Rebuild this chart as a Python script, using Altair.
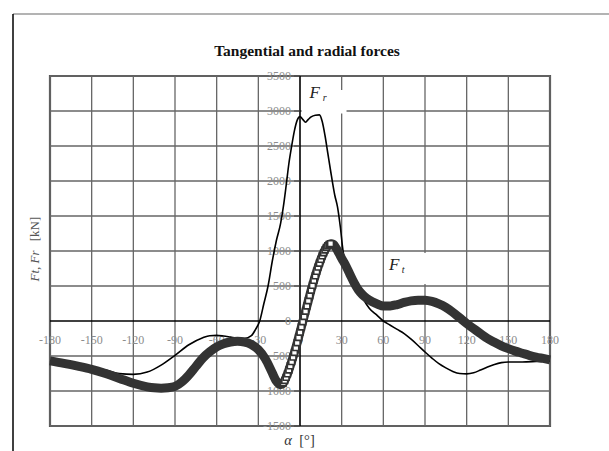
import altair as alt
import pandas as pd

# ---- data ----
x_ticks = [-180, -150, -120, -90, -60, -30, 0, 30, 60, 90, 120, 150, 180]
y_ticks = [-1500, -1000, -500, 0, 500, 1000, 1500, 2000, 2500, 3000, 3500]
grid_x = [-180, -150, -120, -90, -60, -30, 30, 60, 90, 120, 150, 180]
grid_y = [-1500, -1000, -500, 500, 1000, 1500, 2000, 2500, 3000, 3500]
zero = [0]

# radial force F_r (thin line)
fr_alpha = [-180, -165, -150, -140, -130, -120, -110, -100, -90, -80, -70, -65, -60, -55, -50,
            -45, -40, -35, -32, -29, -26, -23, -20, -17, -14, -12, -10, -8, -6, -4, -2, 0,
            2, 4, 6, 8, 11, 14, 16, 18, 20, 22, 25, 27, 29, 31, 34, 37, 40, 43, 46, 50, 55,
            60, 65, 70, 75, 80, 85, 90, 95, 100, 105, 110, 115, 120, 125, 130, 135, 140,
            145, 150, 160, 170, 180]
fr_value = [-570, -610, -657, -700, -752, -762, -730, -630, -490, -340, -240, -210, -205, -215, -230,
            -245, -250, -210, -120, 0, 250, 500, 850, 1150, 1390, 1630, 1930, 2250, 2500, 2720, 2870, 2920,
            2880, 2840, 2880, 2915, 2940, 2945, 2850, 2650, 2400, 2150, 1800, 1630, 1350, 1000, 780, 640, 520, 420, 300, 180, 90,
            0, -60, -120, -180, -260, -350, -443, -530, -610, -670, -720, -750, -755, -740, -700, -657, -620,
            -595, -586, -585, -578, -570]

# tangential force F_t (thick line with square markers)
ft_alpha = [-180, -170, -160, -150, -140, -130, -120, -110, -105, -100, -95, -90, -85, -80, -75,
            -70, -65, -60, -55, -50, -45, -40, -35, -30, -25, -20, -17,
            -14, -13, -12, -11, -10, -9, -8, -7, -6, -5, -4, -3, -2, -1, 0, 1, 2, 3, 4, 5, 6,
            7, 8, 9, 10, 11, 12, 13, 14, 15, 16, 17, 18, 19, 20, 21, 22, 23, 24,
            26, 28, 30, 33, 36, 39, 42, 45, 48, 52, 56, 60, 65, 70, 75, 80, 85, 90, 95, 100,
            105, 110, 115, 120, 125, 130, 135, 140, 145, 150, 155, 160, 165, 170, 175, 180]
ft_value = [-570, -605, -645, -690, -750, -820, -890, -940, -955, -960, -955, -935, -870, -770, -650,
            -530, -440, -370, -325, -300, -290, -300, -335, -410, -540, -740, -860,
            -910, -905, -885, -850, -805, -755, -700, -640, -580, -515, -450, -380, -310, -235, -160, -85, -10, 65, 140, 215, 290,
            365, 440, 510, 580, 645, 710, 770, 825, 880, 930, 975, 1015, 1050, 1075, 1095, 1105, 1105, 1095,
            1040, 970, 895, 790, 665, 545, 445, 375, 325, 275, 240, 215, 215, 235, 265, 288, 298, 296, 280, 245,
            195, 125, 45, -35, -110, -180, -250, -305, -355, -395, -430, -460, -490, -515, -535, -555]

# annotation boxes and labels (data coordinates)
box_a1 = [1.2, 61.5]
box_a2 = [33.5, 112]
box_v1 = [2965, 530]
box_v2 = [3300, 970]
lab_main = ["F", "F"]
lab_main_a = [10.6, 67.8]
lab_main_v = [3253, 803]
lab_sub = ["r", "t"]
lab_sub_a = [17.8, 74.2]
lab_sub_v = [3190, 730]

fr = pd.DataFrame({"alpha": fr_alpha, "value": fr_value})
ft = pd.DataFrame({"alpha": ft_alpha, "value": ft_value})
gx = pd.DataFrame({"gx": grid_x})
gy = pd.DataFrame({"gy": grid_y})
zdf = pd.DataFrame({"z": zero})
xt = pd.DataFrame({"v": x_ticks, "t": [str(v) for v in x_ticks]})
yt = pd.DataFrame({"v": y_ticks, "t": [str(v) for v in y_ticks]})
boxes = pd.DataFrame({"a1": box_a1, "a2": box_a2, "v1": box_v1, "v2": box_v2})
labs = pd.DataFrame({"t": lab_main, "a": lab_main_a, "v": lab_main_v})
subs = pd.DataFrame({"t": lab_sub, "a": lab_sub_a, "v": lab_sub_v})

SERIF = "Liberation Serif"
xs = alt.Scale(domain=[-180, 180], nice=False, zero=False)
ys = alt.Scale(domain=[-1500, 3500], nice=False, zero=False)


def X(f):
    return alt.X(f, type="quantitative", scale=xs, axis=None)


def Y(f):
    return alt.Y(f, type="quantitative", scale=ys, axis=None)


vgrid = alt.Chart(gx).mark_rule(color="#666666", strokeWidth=1.3).encode(x=X("gx"))
hgrid = alt.Chart(gy).mark_rule(color="#666666", strokeWidth=1.3).encode(y=Y("gy"))

rects = alt.Chart(boxes).mark_rect(color="white").encode(
    x=X("a1"), x2="a2:Q", y=Y("v1"), y2="v2:Q")

zero_h = alt.Chart(zdf).mark_rule(color="black", strokeWidth=1.6).encode(y=Y("z"))
zero_v = alt.Chart(zdf).mark_rule(color="black", strokeWidth=1.6).encode(x=X("z"))

yticks = alt.Chart(yt).mark_rule(color="#444444", strokeWidth=1).encode(
    x=alt.value(244), x2=alt.value(250), y=Y("v"))

xlabels = alt.Chart(xt).mark_text(font=SERIF, fontSize=12, color="#8c8c8c",
                                  align="center", baseline="middle").encode(
    x=X("v"), y=alt.value(263.5), text="t:N")
ylabels = alt.Chart(yt).mark_text(font=SERIF, fontSize=12, color="#8c8c8c",
                                  align="right", baseline="middle").encode(
    x=alt.value(241), y=Y("v"), text="t:N")

fr_line = alt.Chart(fr).mark_line(color="black", strokeWidth=1.6, interpolate="monotone").encode(
    x=X("alpha"), y=Y("value"), order="alpha:Q")

ft_line = alt.Chart(ft).mark_line(color="#333333", strokeWidth=9, interpolate="monotone").encode(
    x=X("alpha"), y=Y("value"), order="alpha:Q")

ft_pts = alt.Chart(ft).transform_filter(
    (alt.datum.alpha >= -12) & (alt.datum.alpha <= 22)
).mark_point(shape="square", filled=False, fill="white", fillOpacity=1,
             stroke="#333333", strokeWidth=1.6, size=34, opacity=1).encode(
    x=X("alpha"), y=Y("value"))

main_lab = alt.Chart(labs).mark_text(font=SERIF, fontSize=17, fontStyle="italic",
                                     color="#222222").encode(
    x=X("a"), y=Y("v"), text="t:N")
sub_lab = alt.Chart(subs).mark_text(font=SERIF, fontSize=10, fontStyle="italic",
                                    color="#222222").encode(
    x=X("a"), y=Y("v"), text="t:N")

one = pd.DataFrame({"k": [0]})
title = alt.Chart(one).mark_text(
    font=SERIF, fontSize=15.5, fontWeight="bold", color="#111111", baseline="alphabetic",
    text="Tangential and radial forces").encode(x=alt.value(257), y=alt.value(-20))

xtitle_a = alt.Chart(one).mark_text(font=SERIF, fontSize=14.5, fontStyle="italic",
                                    color="#333333", baseline="alphabetic", text="α").encode(
    x=alt.value(238), y=alt.value(369))
xtitle_b = alt.Chart(one).mark_text(font=SERIF, fontSize=14.5, color="#333333",
                                    baseline="alphabetic", text="[°]").encode(
    x=alt.value(257), y=alt.value(369))
ytitle_a = alt.Chart(one).mark_text(font=SERIF, fontSize=13, fontStyle="italic",
                                    color="#555555", angle=270, text="Ft, Fr").encode(
    x=alt.value(-15), y=alt.value(190))
ytitle_b = alt.Chart(one).mark_text(font=SERIF, fontSize=13, color="#555555",
                                    angle=270, text="[kN]").encode(
    x=alt.value(-15), y=alt.value(153))

frame_top = alt.Chart(one).mark_rule(color="#9a9a9a", strokeWidth=1.5).encode(
    x=alt.value(-37), x2=alt.value(560), y=alt.value(-62))
frame_left = alt.Chart(one).mark_rule(color="black", strokeWidth=1.5).encode(
    x=alt.value(-37), y=alt.value(-62), y2=alt.value(380))

chart = alt.layer(
    vgrid, hgrid, rects, zero_h, zero_v, yticks, xlabels, ylabels,
    fr_line, ft_line, ft_pts, main_lab, sub_lab,
    title, xtitle_a, xtitle_b, ytitle_a, ytitle_b, frame_top, frame_left
).properties(
    width=500, height=350,
    autosize=alt.AutoSizeParams(type="none"),
    padding={"left": 50, "top": 76, "right": 59, "bottom": 25},
    background="white",
).configure_view(stroke="#555555", strokeWidth=2.2)

chart.save("out.html", embed_options={"renderer": "svg", "actions": False})
